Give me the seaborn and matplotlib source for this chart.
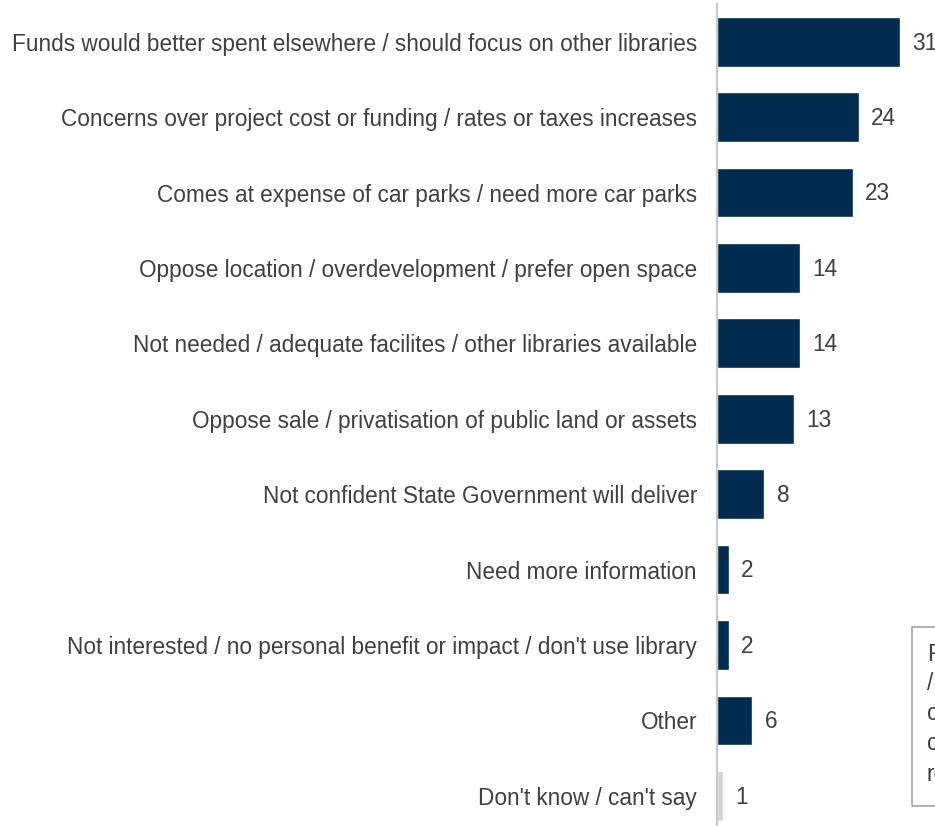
import matplotlib
matplotlib.use("Agg")
import matplotlib.pyplot as plt
import seaborn as sns
import pandas as pd
from matplotlib.patches import Rectangle

categories = [
    "Funds would better spent elsewhere / should focus on other libraries",
    "Concerns over project cost or funding / rates or taxes increases",
    "Comes at expense of car parks / need more car parks",
    "Oppose location / overdevelopment / prefer open space",
    "Not needed / adequate facilites / other libraries available",
    "Oppose sale / privatisation of public land or assets",
    "Not confident State Government will deliver",
    "Need more information",
    "Not interested / no personal benefit or impact / don't use library",
    "Other",
    "Don't know / can't say",
]
values = [31, 24, 23, 14, 14, 13, 8, 2, 2, 6, 1]
bar_colors = ["#022C4F"] * 10 + ["#D3D3D3"]
note_lines = ["Figures", "/ counts", "comments", "coded", "responses"]

sns.set_style("white")
plt.rcParams["font.family"] = ["Liberation Sans", "DejaVu Sans"]

FS = 16.3
W, H = 935, 826
fig = plt.figure(figsize=(W / 100, H / 100), dpi=100)
ax_left, ax_right = 717, 935
ax_top, ax_bot = 4, 826
ax = fig.add_axes([ax_left / W, 1 - ax_bot / H, (ax_right - ax_left) / W, (ax_bot - ax_top) / H])

df = pd.DataFrame({"cat": categories, "val": values})
sns.barplot(data=df, x="val", y="cat", hue="cat", palette=bar_colors,
            legend=False, orient="h", width=0.66, ax=ax, saturation=1)

ax.set_xlim(0, 36.95)
ax.set_ylim(10.4, -0.5)
ax.set_xlabel("")
ax.set_ylabel("")
ax.set_xticks([])
ax.tick_params(axis="y", length=0, pad=14.4, labelsize=FS, labelcolor="#404040")
for s in ["top", "right", "bottom"]:
    ax.spines[s].set_visible(False)
ax.spines["left"].set_color("#C8C8C8")
ax.spines["left"].set_linewidth(1.5)

for i, v in enumerate(values):
    ax.annotate(str(v), xy=(v, i), xytext=(9, -1), textcoords="offset points",
                va="center", ha="left", fontsize=FS, color="#404040",
                annotation_clip=False)

# partially visible note box at bottom right
fig.patches.append(Rectangle((912 / W, 1 - 806 / H), 60 / W, (806 - 627) / H,
                             transform=fig.transFigure, fill=False,
                             edgecolor="#A6A6A6", linewidth=1.2))
for k, line in enumerate(note_lines):
    fig.text(927 / W, 1 - (654 + 30 * k) / H, line, fontsize=FS,
             color="#404040", va="center", ha="left")

fig.savefig("out.png", dpi=100)
